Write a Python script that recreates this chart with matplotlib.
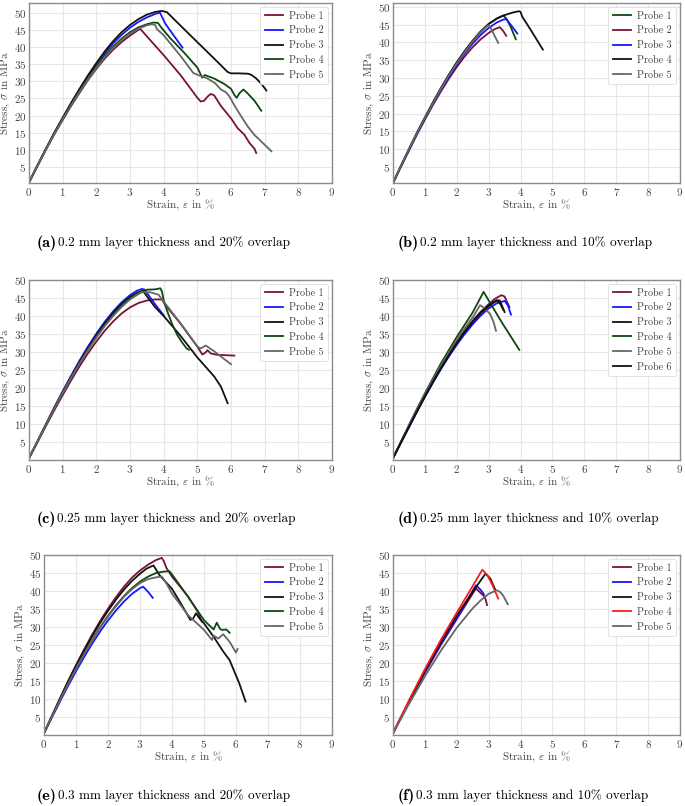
import numpy as np
import matplotlib
matplotlib.use("Agg")
import matplotlib.pyplot as plt

plt.rcParams['font.family'] = ['cmr10', 'DejaVu Serif']
plt.rcParams['mathtext.fontset'] = 'cm'
plt.rcParams['axes.formatter.use_mathtext'] = True

# ---- colours used in the reference
MAROON = '#7a1236'
BLUE = '#1515ff'
BLACK = '#111111'
GREEN = '#0f470f'
GREY = '#666666'
RED = '#ff1a1a'

# ================= data =================
# (a) 0.2 mm, 20 % overlap
a_labels = ['Probe 1', 'Probe 2', 'Probe 3', 'Probe 4', 'Probe 5']
a_colors = [MAROON, BLUE, BLACK, GREEN, GREY]
a_strain = [
    [0, .25, .5, .75, 1, 1.25, 1.5, 1.75, 2, 2.25, 2.5, 2.75, 3, 3.15, 3.3, 4.0, 4.5, 5.0, 5.1, 5.2, 5.3, 5.4, 5.5, 5.7, 6.0, 6.2, 6.4, 6.55, 6.7, 6.75],
    [0, .25, .5, .75, 1, 1.25, 1.5, 1.75, 2, 2.25, 2.5, 2.75, 3, 3.25, 3.5, 3.75, 3.89, 4.04, 4.3, 4.56],
    [0, .25, .5, .75, 1, 1.25, 1.5, 1.75, 2, 2.25, 2.5, 2.75, 3, 3.25, 3.5, 3.75, 3.95, 4.1, 4.5, 5, 5.5, 5.9, 6.0, 6.2, 6.5, 6.6, 6.75, 6.9, 7.05],
    [0, .25, .5, .75, 1, 1.25, 1.5, 1.75, 2, 2.25, 2.5, 2.75, 3, 3.25, 3.5, 3.7, 3.83, 3.94, 4.2, 4.6, 5.0, 5.15, 5.22, 5.5, 5.8, 6.0, 6.1, 6.17, 6.25, 6.37, 6.5, 6.7, 6.9],
    [0, .25, .5, .75, 1, 1.25, 1.5, 1.75, 2, 2.25, 2.5, 2.75, 3, 3.25, 3.5, 3.65, 3.75, 3.8, 4.0, 4.5, 4.88, 5.0, 5.28, 5.52, 5.7, 5.85, 5.95, 6.1, 6.3, 6.5, 6.7, 6.8, 7.0, 7.2],
]
a_stress = [
    [0.5, 5.3, 10, 14.5, 18.7, 22.8, 26.6, 30.3, 33.6, 36.6, 39.2, 41.4, 43.3, 44.3, 45.3, 37.6, 31.8, 25.2, 24.1, 24.3, 25.5, 26.3, 25.9, 22.8, 19.2, 16.3, 14.4, 12.0, 10.3, 9.1],
    [0.5, 5.4, 10.2, 14.8, 19.1, 23.3, 27.3, 31.2, 34.8, 38.1, 41, 43.5, 45.6, 47.3, 48.6, 49.6, 50.0, 46.9, 43.3, 39.8],
    [0.5, 5.5, 10.3, 15, 19.4, 23.7, 27.8, 31.7, 35.3, 38.7, 41.7, 44.3, 46.4, 48.1, 49.4, 50.2, 50.5, 50.1, 46.2, 41.4, 36.6, 32.7, 32.3, 32.3, 32.2, 31.9, 30.8, 29.3, 27.3],
    [0.5, 5.4, 10.1, 14.7, 19.0, 23.1, 27.1, 30.8, 34.3, 37.4, 40.1, 42.4, 44.3, 45.7, 46.6, 47.1, 47.0, 45.5, 42.5, 38.4, 34.0, 31.0, 31.8, 30.8, 29.2, 27.8, 26.0, 25.2, 26.5, 27.6, 26.4, 24.3, 21.4],
    [0.5, 5.4, 10.1, 14.6, 18.9, 23, 26.9, 30.5, 33.9, 37, 39.7, 42, 43.9, 45.3, 46.3, 46.6, 46.4, 45.2, 43.4, 37.4, 32.4, 31.9, 30.9, 29.5, 27.6, 26.8, 25.6, 23, 19.8, 16.8, 14.3, 13.4, 11.5, 9.6],
]

# (b) 0.2 mm, 10 % overlap
b_labels = ['Probe 1', 'Probe 2', 'Probe 3', 'Probe 4', 'Probe 5']
b_colors = [GREEN, MAROON, BLUE, BLACK, GREY]
b_strain = [
    [0, .25, .5, .75, 1, 1.25, 1.5, 1.75, 2, 2.25, 2.5, 2.75, 3, 3.25, 3.45, 3.55, 3.7, 3.85],
    [0, .25, .5, .75, 1, 1.25, 1.5, 1.75, 2, 2.25, 2.5, 2.75, 3, 3.2, 3.35, 3.45, 3.55],
    [0, .25, .5, .75, 1, 1.25, 1.5, 1.75, 2, 2.25, 2.5, 2.75, 3, 3.25, 3.45, 3.55, 3.7, 3.9],
    [0, .25, .5, .75, 1, 1.25, 1.5, 1.75, 2, 2.25, 2.5, 2.75, 3, 3.25, 3.5, 3.75, 3.95, 4.0, 4.05, 4.3, 4.7],
    [0, .25, .5, .75, 1, 1.25, 1.5, 1.75, 2, 2.25, 2.5, 2.75, 2.95, 3.0, 3.1, 3.2, 3.3],
]
b_stress = [
    [0.5, 5.3, 10, 14.6, 18.9, 23.1, 27.1, 30.9, 34.4, 37.6, 40.5, 43.1, 45.2, 46.7, 47.6, 46.8, 44.2, 40.9],
    [0.5, 5.1, 9.6, 14.1, 18.3, 22.4, 26.2, 29.8, 33.1, 36.1, 38.7, 40.9, 42.7, 43.8, 44.3, 43.3, 41.9],
    [0.5, 5.2, 9.8, 14.3, 18.6, 22.7, 26.6, 30.3, 33.7, 36.9, 39.7, 42.1, 44.1, 45.6, 46.4, 46.6, 44.9, 42.5],
    [0.5, 5.3, 10, 14.6, 18.9, 23.1, 27.1, 30.9, 34.4, 37.6, 40.5, 43.1, 45.2, 46.7, 47.7, 48.4, 48.8, 48.6, 47.3, 43.8, 38],
    [0.5, 5.3, 10, 14.5, 18.8, 22.9, 26.9, 30.7, 34.1, 37.3, 40.3, 42.9, 44.6, 44.9, 43.5, 41.6, 39.9],
]

# (c) 0.25 mm, 20 % overlap
c_labels = ['Probe 1', 'Probe 2', 'Probe 3', 'Probe 4', 'Probe 5']
c_colors = [MAROON, BLUE, BLACK, GREEN, GREY]
c_strain = [
    [0, .25, .5, .75, 1, 1.25, 1.5, 1.75, 2, 2.25, 2.5, 2.75, 3, 3.25, 3.5, 3.75, 3.95, 4.05, 4.5, 5, 5.15, 5.25, 5.3, 5.4, 5.6, 6.1],
    [0, .25, .5, .75, 1, 1.25, 1.5, 1.75, 2, 2.25, 2.5, 2.75, 3, 3.2, 3.35, 3.42, 3.55, 3.75, 4.0],
    [0, .25, .5, .75, 1, 1.25, 1.5, 1.75, 2, 2.25, 2.5, 2.75, 3, 3.2, 3.38, 3.5, 3.75, 4, 4.5, 5, 5.5, 5.7, 5.9],
    [0, .25, .5, .75, 1, 1.25, 1.5, 1.75, 2, 2.25, 2.5, 2.75, 3, 3.25, 3.5, 3.75, 3.9, 3.95, 4.0, 4.1, 4.24, 4.4, 4.53, 4.68, 4.75],
    [0, .25, .5, .75, 1, 1.25, 1.5, 1.75, 2, 2.25, 2.5, 2.75, 3, 3.2, 3.35, 3.6, 3.85, 3.95, 4.5, 5.0, 5.1, 5.25, 5.5, 6.0],
]
c_stress = [
    [0.5, 4.9, 9.4, 13.8, 18, 22.1, 26.0, 29.6, 32.9, 35.9, 38.5, 40.7, 42.4, 43.6, 44.3, 44.6, 44.6, 43, 37.9, 31.5, 29.3, 29.9, 30.5, 29.6, 29.2, 29.0],
    [0.5, 5.2, 9.9, 14.6, 19.1, 23.4, 27.6, 31.5, 35.1, 38.4, 41.3, 43.8, 45.8, 47.0, 47.5, 47.4, 45.8, 43.2, 40.2],
    [0.5, 5.1, 9.8, 14.4, 18.8, 23.1, 27.2, 31, 34.6, 37.9, 40.8, 43.3, 45.3, 46.4, 47.0, 45.5, 42.4, 40, 34.5, 28.5, 23.2, 20.4, 15.8],
    [0.5, 5.1, 9.7, 14.3, 18.7, 22.9, 26.9, 30.7, 34.2, 37.4, 40.3, 42.8, 44.9, 46.5, 47.3, 47.4, 47.7, 46.8, 44.4, 41.5, 38, 34.8, 32.9, 31, 30.6],
    [0.5, 5.1, 9.7, 14.3, 18.6, 22.8, 26.8, 30.5, 34.0, 37.2, 40.0, 42.5, 44.6, 45.8, 46.6, 46.6, 45.9, 44.6, 38, 31.5, 31, 31.8, 30.2, 26.6],
]

# (d) 0.25 mm, 10 % overlap
d_labels = ['Probe 1', 'Probe 2', 'Probe 3', 'Probe 4', 'Probe 5', 'Probe 6']
d_colors = [MAROON, BLUE, BLACK, GREEN, GREY, BLACK]
d_strain = [
    [0, .25, .5, .75, 1, 1.25, 1.5, 1.75, 2, 2.25, 2.5, 2.75, 3, 3.2, 3.4, 3.5, 3.65],
    [0, .25, .5, .75, 1, 1.25, 1.5, 1.75, 2, 2.25, 2.5, 2.75, 3, 3.25, 3.5, 3.6, 3.7],
    [0, .25, .5, .75, 1, 1.25, 1.5, 1.75, 2, 2.25, 2.5, 2.75, 3, 3.25, 3.35, 3.5],
    [0, .25, .5, .75, 1, 1.5, 2, 2.5, 2.84, 3.4, 3.96],
    [0, .25, .5, .75, 1, 1.25, 1.5, 1.75, 2, 2.25, 2.5, 2.65, 2.73, 2.85, 3.05, 3.15, 3.23],
    [0, .25, .5, .75, 1, 1.25, 1.5, 1.75, 2, 2.25, 2.5, 2.75, 3, 3.15, 3.26, 3.35, 3.46],
]
d_stress = [
    [0.5, 4.9, 9.3, 13.6, 17.8, 21.8, 25.6, 29.3, 32.7, 35.9, 38.7, 41.2, 43.3, 44.8, 45.8, 45.4, 42.5],
    [0.5, 4.8, 9.1, 13.4, 17.5, 21.4, 25.2, 28.7, 32, 35, 37.7, 40.1, 42.1, 43.5, 44.2, 43, 40.4],
    [0.5, 4.9, 9.2, 13.5, 17.7, 21.7, 25.5, 29.1, 32.5, 35.6, 38.4, 40.9, 42.9, 44.4, 44.3, 41.1],
    [0.5, 5.1, 9.7, 14.2, 18.5, 26.8, 34.2, 41.0, 46.7, 38.4, 30.6],
    [0.5, 5, 9.5, 14, 18.2, 22.3, 26.2, 29.9, 33.4, 36.6, 39.6, 41.8, 43, 42.3, 40.5, 38.4, 35.9],
    [0.5, 4.9, 9.2, 13.5, 17.7, 21.7, 25.5, 29.1, 32.5, 35.6, 38.4, 40.8, 42.7, 43.7, 44.2, 43.6, 41.7],
]

# (e) 0.3 mm, 20 % overlap
e_labels = ['Probe 1', 'Probe 2', 'Probe 3', 'Probe 4', 'Probe 5']
e_colors = [MAROON, BLUE, BLACK, GREEN, GREY]
e_strain = [
    [0, .25, .5, .75, 1, 1.25, 1.5, 1.75, 2, 2.25, 2.5, 2.75, 3, 3.25, 3.5, 3.68, 3.75, 3.82, 4.0, 4.5, 4.8, 4.93],
    [0, .25, .5, .75, 1, 1.25, 1.5, 1.75, 2, 2.25, 2.5, 2.75, 3, 3.1, 3.25, 3.4],
    [0, .25, .5, .75, 1, 1.25, 1.5, 1.75, 2, 2.25, 2.5, 2.75, 3, 3.2, 3.42, 3.5, 3.6, 4, 4.3, 4.57, 4.65, 4.75, 4.85, 5, 5.3, 5.6, 5.8, 6.1, 6.3],
    [0, .25, .5, .75, 1, 1.25, 1.5, 1.75, 2, 2.25, 2.5, 2.75, 3, 3.25, 3.5, 3.75, 3.92, 4.0, 4.5, 5.0, 5.3, 5.4, 5.5, 5.55, 5.7, 5.8],
    [0, .25, .5, .75, 1, 1.25, 1.5, 1.75, 2, 2.25, 2.5, 2.75, 3, 3.25, 3.5, 3.68, 3.8, 4, 4.5, 5.0, 5.25, 5.3, 5.45, 5.6, 5.8, 6.0, 6.05],
]
e_stress = [
    [0.5, 5.4, 10.2, 14.9, 19.4, 23.7, 27.8, 31.6, 35.1, 38.3, 41.2, 43.7, 45.7, 47.3, 48.6, 49.2, 48.2, 46.5, 44, 38.5, 34.3, 31.5],
    [0.5, 4.9, 9.3, 13.6, 17.7, 21.6, 25.3, 28.7, 31.8, 34.6, 37.1, 39.2, 40.8, 41.2, 39.8, 38.1],
    [0.5, 5.3, 10.1, 14.8, 19.2, 23.4, 27.4, 31.1, 34.5, 37.6, 40.4, 42.8, 44.8, 46.2, 47.1, 46, 44.5, 40.6, 36.2, 32.0, 32.2, 33.8, 32.5, 31, 27.3, 23.2, 20.8, 14.4, 9.3],
    [0.5, 5.2, 9.8, 14.3, 18.6, 22.6, 26.4, 29.9, 33.1, 36, 38.6, 40.8, 42.6, 44, 45, 45.4, 45.5, 44.6, 38.4, 31.9, 29.3, 31.2, 29.5, 29.2, 29.3, 28.4],
    [0.5, 5.2, 9.7, 14.1, 18.4, 22.4, 26.2, 29.7, 32.9, 35.8, 38.4, 40.5, 42.2, 43.3, 43.8, 44, 42.5, 39.3, 33.3, 29.2, 26.4, 27.6, 26.8, 28, 25.9, 22.9, 23.9],
]

# (f) 0.3 mm, 10 % overlap
f_labels = ['Probe 1', 'Probe 2', 'Probe 3', 'Probe 4', 'Probe 5']
f_colors = [MAROON, BLUE, BLACK, RED, GREY]
f_strain = [
    [0, .5, 1, 1.5, 2, 2.6, 2.85, 2.9, 2.95],
    [0, .5, 1, 1.5, 2, 2.6, 2.75, 2.85],
    [0, .5, 1, 1.5, 2, 2.5, 2.9, 3.05, 3.2],
    [0, .5, 1, 1.5, 2, 2.5, 2.8, 2.95, 3.1, 3.3],
    [0, .5, 1, 1.5, 2, 2.5, 2.75, 3, 3.25, 3.35, 3.45, 3.6],
]
f_stress = [
    [0.5, 9.1, 17.3, 25, 32.2, 40.7, 38.6, 37.8, 36.1],
    [0.5, 9.2, 17.5, 25.3, 32.5, 41.6, 40.3, 39.1],
    [0.5, 9.3, 17.8, 25.8, 33.2, 39.8, 44.8, 43.5, 40.5],
    [0.5, 9.6, 18.3, 26.4, 34.0, 41.4, 45.9, 44.5, 42, 37.9],
    [0.5, 8.6, 16.3, 23.4, 29.8, 35.2, 37.4, 39.2, 40.2, 39.8, 38.8, 36.3],
]

captions = [
    ('(a)', '0.2 mm layer thickness and 20% overlap'),
    ('(b)', '0.2 mm layer thickness and 10% overlap'),
    ('(c)', '0.25 mm layer thickness and 20% overlap'),
    ('(d)', '0.25 mm layer thickness and 10% overlap'),
    ('(e)', '0.3 mm layer thickness and 20% overlap'),
    ('(f)', '0.3 mm layer thickness and 10% overlap'),
]

# ================= figure =================
W, H = 685, 806
fig = plt.figure(figsize=(W / 100, H / 100), dpi=100)


def px_rect(l, t, r, b):
    return [l / W, 1 - b / H, (r - l) / W, (b - t) / H]


panels = [
    (px_rect(29, 3, 332, 183), a_strain, a_stress, a_labels, a_colors, (0.35, 52.8)),
    (px_rect(393, 3, 680, 183), b_strain, b_stress, b_labels, b_colors, (0.5, 51.1)),
    (px_rect(29, 280, 332, 460), c_strain, c_stress, c_labels, c_colors, (0, 50)),
    (px_rect(393, 280, 680, 460), d_strain, d_stress, d_labels, d_colors, (0, 50)),
    (px_rect(44, 555, 332, 735), e_strain, e_stress, e_labels, e_colors, (0, 50)),
    (px_rect(393, 555, 680, 735), f_strain, f_stress, f_labels, f_colors, (0, 50)),
]

for rect, xs, ys, labels, colors, ylim in panels:
    ax = fig.add_axes(rect)
    for x, y, lab, col in zip(xs, ys, labels, colors):
        ax.plot(x, y, color=col, lw=1.3, label=lab, solid_joinstyle='round')
    ax.set_xlim(0, 9)
    ax.set_ylim(*ylim)
    ax.set_xticks(range(0, 10))
    ax.set_yticks(range(5, 51, 5))
    ax.grid(color='#e6e6e6', lw=0.8)
    ax.set_axisbelow(True)
    for s in ax.spines.values():
        s.set_color('#8c8c8c')
        s.set_linewidth(1.0)
    ax.tick_params(length=0, labelsize=8, colors='#444444', pad=2)
    ax.set_xlabel(r'Strain, $\varepsilon$ in %', fontsize=8, color='#444444', labelpad=0)
    ax.set_ylabel(r'Stress, $\sigma$ in MPa', fontsize=8, color='#444444', labelpad=1)
    leg = ax.legend(loc='upper right', fontsize=7.3, handlelength=1.8, handletextpad=0.6,
                    labelspacing=0.52, borderaxespad=0.35, borderpad=0.45, fancybox=True,
                    framealpha=1, edgecolor='#dddddd')
    leg.get_frame().set_linewidth(0.6)
    for t in leg.get_texts():
        t.set_color('#444444')

# captions under each panel: bold tag followed by the description
renderer = fig.canvas.get_renderer()
cap_pos = [(37, 243), (398, 243), (37, 519), (398, 519), (37, 796), (398, 796)]
for (tag, txt), (cx, cy) in zip(captions, cap_pos):
    t = fig.text(cx / W, 1 - cy / H, tag, family='cmb10', fontsize=11.5,
                 va='center', ha='left')
    tw = t.get_window_extent(renderer).width
    fig.text((cx + tw + 1) / W, 1 - cy / H, txt, fontsize=9.5, va='center', ha='left')

fig.savefig('out.png', dpi=100)
